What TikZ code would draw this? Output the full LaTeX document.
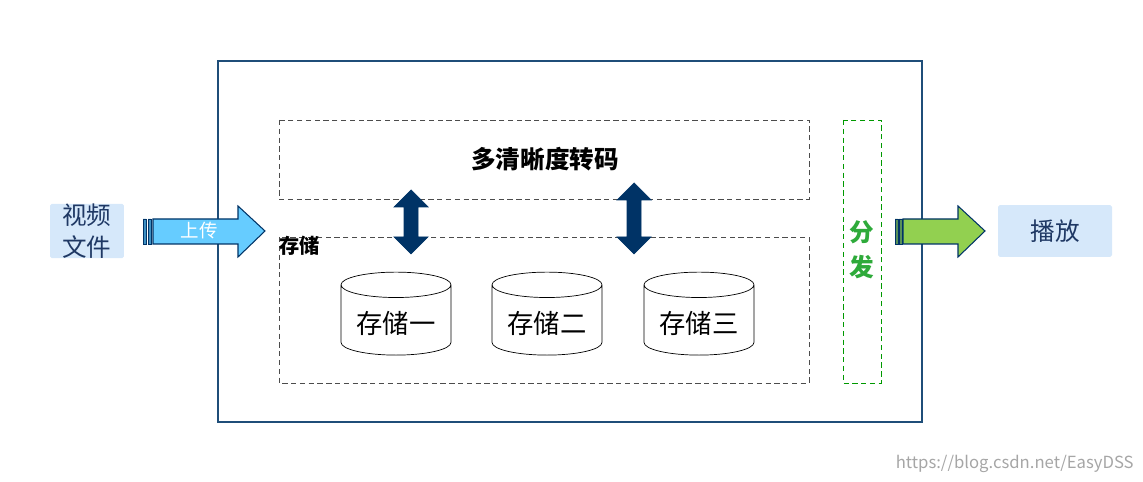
\documentclass[tikz,border=0pt]{standalone}
\usepackage{fontspec}
\setmainfont{Noto Sans CJK SC}
\usetikzlibrary{shapes.geometric}
\definecolor{navy}{HTML}{1F4E79}
\definecolor{darknavy}{HTML}{003366}
\definecolor{lblue}{HTML}{D6E8FA}
\definecolor{sky}{HTML}{66CCFF}
\definecolor{lgreen}{HTML}{92D050}
\definecolor{txtblue}{HTML}{1F3864}
\definecolor{dgreen}{HTML}{2EAA3A}
\tikzset{
 dbox/.style={draw=black!70, dashed, dash pattern=on 3pt off 2pt, line width=0.5pt},
 lbox/.style={fill=lblue, rounded corners=1pt, text=txtblue, font=\fontsize{14}{17}\selectfont},
 cyl/.style={cylinder, shape border rotate=90, draw, aspect=0.28, minimum width=2.2cm, minimum height=1.66cm, font=\fontsize{15}{18}\selectfont, fill=white},
 dblarrow/.style={fill=darknavy, draw=darknavy},
}
\begin{document}
\begin{tikzpicture}[x=0.02cm,y=-0.02cm]
\useasboundingbox (0,0) rectangle (1143,482);
\draw[navy, line width=0.8pt] (218,61) rectangle (922,422);
\draw[dbox] (279,120) rectangle (809,199);
\node[font=\bfseries\fontsize{14}{17}\selectfont] (zm) at (545,159) {多清晰度转码};
\draw[dbox] (279,237) rectangle (809,383);
\node[anchor=north west, inner sep=0pt, font=\bfseries\fontsize{11.5}{14}\selectfont] (cc) at (279,236) {存储};
\node[cyl] (c1) at (396,323) {存储一};
\node[cyl] (c2) at (547,323) {存储二};
\node[cyl] (c3) at (699,323) {存储三};
\foreach \x/\t in {411/190,634/183}{
 \filldraw[dblarrow] (\x,\t) -- (\x+17,\t+17) -- (\x+7,\t+17) -- (\x+7,237) -- (\x+17,237) -- (\x,254) -- (\x-17,237) -- (\x-7,237) -- (\x-7,\t+17) -- (\x-17,\t+17) -- cycle;
}
\draw[green!60!black, dashed, dash pattern=on 3pt off 2pt] (843,120) rectangle (881,383);
\node[text=dgreen, align=center, font=\bfseries\fontsize{14}{20}\selectfont] (ff) at (862,250) {分\\发};
\node[lbox, minimum width=1.48cm, minimum height=1.04cm, align=center, inner sep=0pt, font=\fontsize{14}{18}\selectfont] (sp) at (87,231) {视频\\文件};
\node[lbox, minimum width=2.28cm, minimum height=1.04cm] (bf) at (1055,231) {播放};
\filldraw[fill=sky, draw=darknavy, line width=0.6pt] (153,219) -- (238,219) -- (238,206) -- (265,231) -- (238,257) -- (238,244) -- (153,244) -- cycle;
\filldraw[fill=sky!60!darknavy, draw=darknavy, line width=0.5pt] (143,219) rectangle (146,244) (148,219) rectangle (151,244);
\node[text=white, font=\fontsize{10.5}{13}\selectfont] (up) at (199,231) {上传};
\filldraw[fill=lgreen, draw=darknavy, line width=0.6pt] (903,219) -- (958,219) -- (958,206) -- (985,231) -- (958,257) -- (958,244) -- (903,244) -- cycle;
\filldraw[fill=lgreen!60!darknavy, draw=darknavy, line width=0.5pt] (895,219) rectangle (898,244) (899,219) rectangle (902,244);
\node[anchor=east, text=black!35, font=\fontsize{9.5}{12}\selectfont, inner sep=0pt] (wm) at (1134,464) {https://blog.csdn.net/EasyDSS};
\end{tikzpicture}
\end{document}
